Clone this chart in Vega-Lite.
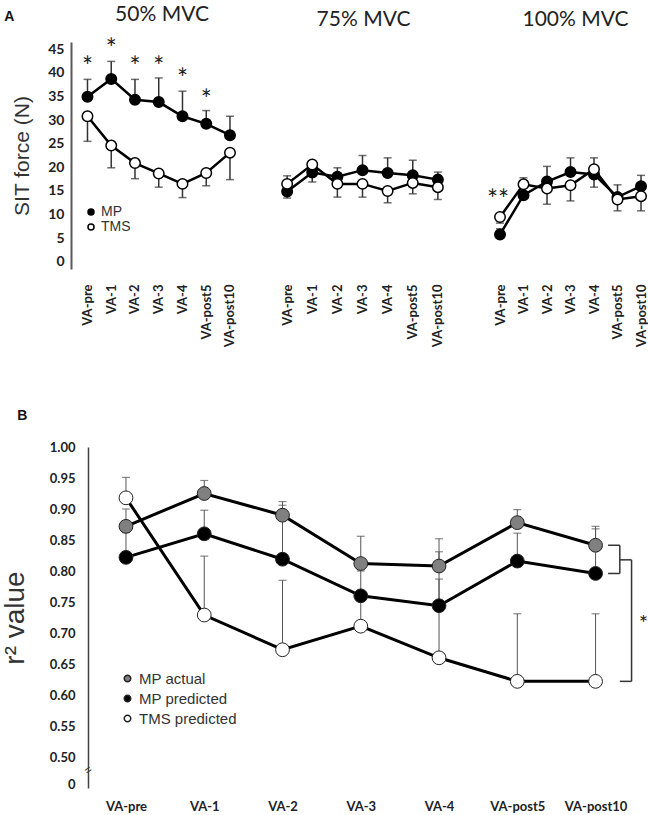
{
  "$schema": "https://vega.github.io/schema/vega-lite/v6.json",
  "padding": {"left": 1, "top": 3, "right": 0, "bottom": 0},
  "config": {
    "view": {"stroke": null},
    "title": {"font": "Lato", "fontSize": 21, "fontWeight": "normal", "color": "#222", "offset": 12},
    "axis": {"grid": false, "ticks": false, "labelColor": "#222", "titleColor": "#333"}
  },
  "title": {"text": "A", "anchor": "start", "frame": "bounds", "font": "Liberation Sans", "fontSize": 14, "fontWeight": "bold", "color": "#111", "dy": 32, "dx": 3},
  "resolve": {"scale": {"fill": "independent"}, "legend": {"fill": "independent"}},
  "datasets": {
    "sit": [
      {"panel": "50", "tp": "VA-pre", "series": "MP", "value": 34.9, "bar": 38.6},
      {"panel": "50", "tp": "VA-1", "series": "MP", "value": 38.7, "bar": 42.4},
      {"panel": "50", "tp": "VA-2", "series": "MP", "value": 34.3, "bar": 38.6},
      {"panel": "50", "tp": "VA-3", "series": "MP", "value": 33.8, "bar": 38.9},
      {"panel": "50", "tp": "VA-4", "series": "MP", "value": 30.8, "bar": 36.1},
      {"panel": "50", "tp": "VA-post5", "series": "MP", "value": 29.2, "bar": 32.0},
      {"panel": "50", "tp": "VA-post10", "series": "MP", "value": 26.8, "bar": 30.8},
      {"panel": "50", "tp": "VA-pre", "series": "TMS", "value": 30.8, "bar": 25.5},
      {"panel": "50", "tp": "VA-1", "series": "TMS", "value": 24.6, "bar": 19.9},
      {"panel": "50", "tp": "VA-2", "series": "TMS", "value": 20.9, "bar": 17.6},
      {"panel": "50", "tp": "VA-3", "series": "TMS", "value": 18.7, "bar": 15.8},
      {"panel": "50", "tp": "VA-4", "series": "TMS", "value": 16.5, "bar": 13.6},
      {"panel": "50", "tp": "VA-post5", "series": "TMS", "value": 18.8, "bar": 16.1},
      {"panel": "50", "tp": "VA-post10", "series": "TMS", "value": 23.1, "bar": 17.4},
      {"panel": "75", "tp": "VA-pre", "series": "MP", "value": 14.9, "bar": 18.2},
      {"panel": "75", "tp": "VA-1", "series": "MP", "value": 18.9, "bar": 21.0},
      {"panel": "75", "tp": "VA-2", "series": "MP", "value": 18.0, "bar": 19.9},
      {"panel": "75", "tp": "VA-3", "series": "MP", "value": 19.4, "bar": 22.5},
      {"panel": "75", "tp": "VA-4", "series": "MP", "value": 18.8, "bar": 22.0},
      {"panel": "75", "tp": "VA-post5", "series": "MP", "value": 18.3, "bar": 21.5},
      {"panel": "75", "tp": "VA-post10", "series": "MP", "value": 17.4, "bar": 19.0},
      {"panel": "75", "tp": "VA-pre", "series": "TMS", "value": 16.5, "bar": 13.5},
      {"panel": "75", "tp": "VA-1", "series": "TMS", "value": 20.6, "bar": 16.9},
      {"panel": "75", "tp": "VA-2", "series": "TMS", "value": 16.5, "bar": 13.7},
      {"panel": "75", "tp": "VA-3", "series": "TMS", "value": 16.5, "bar": 13.7},
      {"panel": "75", "tp": "VA-4", "series": "TMS", "value": 15.0, "bar": 12.5},
      {"panel": "75", "tp": "VA-post5", "series": "TMS", "value": 16.7, "bar": 14.4},
      {"panel": "75", "tp": "VA-post10", "series": "TMS", "value": 15.8, "bar": 13.2},
      {"panel": "100", "tp": "VA-pre", "series": "MP", "value": 5.8, "bar": 7.0},
      {"panel": "100", "tp": "VA-1", "series": "MP", "value": 14.1, "bar": 17.8},
      {"panel": "100", "tp": "VA-2", "series": "MP", "value": 17.0, "bar": 20.2},
      {"panel": "100", "tp": "VA-3", "series": "MP", "value": 19.0, "bar": 22.0},
      {"panel": "100", "tp": "VA-4", "series": "MP", "value": 18.5, "bar": 22.0},
      {"panel": "100", "tp": "VA-post5", "series": "MP", "value": 13.7, "bar": 16.3},
      {"panel": "100", "tp": "VA-post10", "series": "MP", "value": 16.0, "bar": 18.3},
      {"panel": "100", "tp": "VA-pre", "series": "TMS", "value": 9.5, "bar": 8.2},
      {"panel": "100", "tp": "VA-1", "series": "TMS", "value": 16.4, "bar": 14.5},
      {"panel": "100", "tp": "VA-2", "series": "TMS", "value": 15.5, "bar": 12.2},
      {"panel": "100", "tp": "VA-3", "series": "TMS", "value": 16.2, "bar": 12.9},
      {"panel": "100", "tp": "VA-4", "series": "TMS", "value": 19.6, "bar": 15.8},
      {"panel": "100", "tp": "VA-post5", "series": "TMS", "value": 13.2, "bar": 10.8},
      {"panel": "100", "tp": "VA-post10", "series": "TMS", "value": 13.9, "bar": 10.8}
    ],
    "stars": [
      {"panel": "50", "tp": "VA-pre", "value": 42.2, "label": "*"},
      {"panel": "50", "tp": "VA-1", "value": 46.1, "label": "*"},
      {"panel": "50", "tp": "VA-2", "value": 42.2, "label": "*"},
      {"panel": "50", "tp": "VA-3", "value": 42.2, "label": "*"},
      {"panel": "50", "tp": "VA-4", "value": 39.8, "label": "*"},
      {"panel": "50", "tp": "VA-post5", "value": 35.3, "label": "*"},
      {"panel": "100", "tp": "VA-pre", "value": 14.1, "label": "**"}
    ],
    "r2": [
      {"tp": 0, "series": "MP actual", "value": 0.872, "bar": 0.900},
      {"tp": 1, "series": "MP actual", "value": 0.925, "bar": 0.946},
      {"tp": 2, "series": "MP actual", "value": 0.890, "bar": 0.912},
      {"tp": 3, "series": "MP actual", "value": 0.812, "bar": 0.856},
      {"tp": 4, "series": "MP actual", "value": 0.808, "bar": 0.852},
      {"tp": 5, "series": "MP actual", "value": 0.878, "bar": 0.899},
      {"tp": 6, "series": "MP actual", "value": 0.8415, "bar": 0.872},
      {"tp": 0, "series": "MP predicted", "value": 0.822, "bar": 0.862},
      {"tp": 1, "series": "MP predicted", "value": 0.860, "bar": 0.898},
      {"tp": 2, "series": "MP predicted", "value": 0.819, "bar": 0.906},
      {"tp": 3, "series": "MP predicted", "value": 0.760, "bar": 0.800},
      {"tp": 4, "series": "MP predicted", "value": 0.744, "bar": 0.831},
      {"tp": 5, "series": "MP predicted", "value": 0.816, "bar": 0.861},
      {"tp": 6, "series": "MP predicted", "value": 0.796, "bar": 0.868},
      {"tp": 0, "series": "TMS predicted", "value": 0.918, "bar": 0.951},
      {"tp": 1, "series": "TMS predicted", "value": 0.729, "bar": 0.824},
      {"tp": 2, "series": "TMS predicted", "value": 0.673, "bar": 0.785},
      {"tp": 3, "series": "TMS predicted", "value": 0.711, "bar": 0.760},
      {"tp": 4, "series": "TMS predicted", "value": 0.660, "bar": 0.787},
      {"tp": 5, "series": "TMS predicted", "value": 0.622, "bar": 0.731},
      {"tp": 6, "series": "TMS predicted", "value": 0.622, "bar": 0.731}
    ],
    "brackets": [
      {"x": 6.16, "x2": 6.31, "y": 0.8415, "y2": 0.8415},
      {"x": 6.16, "x2": 6.31, "y": 0.796, "y2": 0.796},
      {"x": 6.31, "x2": 6.31, "y": 0.796, "y2": 0.8415},
      {"x": 6.31, "x2": 6.46, "y": 0.818, "y2": 0.818},
      {"x": 6.46, "x2": 6.46, "y": 0.622, "y2": 0.818},
      {"x": 6.31, "x2": 6.46, "y": 0.622, "y2": 0.622}
    ],
    "sig": [{"x": 6.61, "y": 0.723, "label": "*"}]
  },
  "concat": [
    {
      "spacing": 0,
      "resolve": {"scale": {"fill": "independent"}, "legend": {"fill": "independent"}},
      "hconcat": [
        {
          "width": 190, "height": 227,
          "title": {"text": "50% MVC", "dx": -4},
          "encoding": {
            "x": {"field": "tp", "type": "ordinal", "scale": {"type": "point", "domain": ["VA-pre", "VA-1", "VA-2", "VA-3", "VA-4", "VA-post5", "VA-post10"], "padding": 1.0426, "align": 0.347},
              "axis": {"title": null, "labelAngle": -90, "labelFont": "Lato", "labelFontWeight": "bold", "labelFontSize": 13, "labelPadding": 15, "domain": false}},
            "y": {"field": "value", "type": "quantitative", "scale": {"domain": [-1.5, 46.5], "nice": false, "zero": false},
              "axis": {"title": "SIT force (N)", "values": [0, 5, 10, 15, 20, 25, 30, 35, 40, 45], "domainColor": "#595959", "domainWidth": 2, "labelFont": "Lato", "labelFontWeight": "bold", "labelFontSize": 14, "labelPadding": 7, "titleFont": "Liberation Sans", "titleFontSize": 21, "titleFontWeight": "normal", "titlePadding": 15}}
          },
          "layer": [
            {"data": {"name": "sit"}, "transform": [{"filter": "datum.panel == '50'"}], "mark": {"type": "rule", "color": "#333", "strokeWidth": 1.5}, "encoding": {"y2": {"field": "bar"}}},
            {"data": {"name": "sit"}, "transform": [{"filter": "datum.panel == '50'"}], "mark": {"type": "tick", "color": "#333", "thickness": 1.5, "size": 8}, "encoding": {"y": {"field": "bar", "type": "quantitative"}}},
            {"data": {"name": "sit"}, "transform": [{"filter": "datum.panel == '50'"}], "mark": {"type": "line", "color": "#000", "strokeWidth": 2.5}, "encoding": {"detail": {"field": "series"}}},
            {"data": {"name": "sit"}, "transform": [{"filter": "datum.panel == '50'"}], "mark": {"type": "point", "shape": "circle", "filled": true, "stroke": "#000", "strokeWidth": 1.5, "size": 110, "opacity": 1},
              "encoding": {"fill": {"field": "series", "type": "nominal", "scale": {"domain": ["MP", "TMS"], "range": ["#000000", "#ffffff"]},
                "legend": {"orient": "none", "legendX": 13, "legendY": 163, "title": null, "labelFont": "Liberation Sans", "labelFontSize": 14, "labelColor": "#333", "symbolType": "circle", "symbolSize": 36, "symbolStrokeColor": "#000", "symbolStrokeWidth": 1.5, "rowPadding": 1, "labelOffset": 3}}}},
            {"data": {"name": "stars"}, "transform": [{"filter": "datum.panel == '50'"}], "mark": {"type": "text", "font": "Lato", "fontSize": 26, "baseline": "middle", "dy": 6, "color": "#222"}, "encoding": {"text": {"field": "label"}}}
          ]
        },
        {
          "width": 201, "height": 227,
          "title": {"text": "75% MVC", "dx": 2},
          "encoding": {
            "x": {"field": "tp", "type": "ordinal", "scale": {"type": "point", "domain": ["VA-pre", "VA-1", "VA-2", "VA-3", "VA-4", "VA-post5", "VA-post10"], "padding": 1.2766, "align": 0.52},
              "axis": {"title": null, "labelAngle": -90, "labelFont": "Lato", "labelFontWeight": "bold", "labelFontSize": 13, "labelPadding": 15, "domain": false}},
            "y": {"field": "value", "type": "quantitative", "scale": {"domain": [-1.5, 46.5], "nice": false, "zero": false}, "axis": null}
          },
          "layer": [
            {"data": {"name": "sit"}, "transform": [{"filter": "datum.panel == '75'"}], "mark": {"type": "rule", "color": "#333", "strokeWidth": 1.5}, "encoding": {"y2": {"field": "bar"}}},
            {"data": {"name": "sit"}, "transform": [{"filter": "datum.panel == '75'"}], "mark": {"type": "tick", "color": "#333", "thickness": 1.5, "size": 8}, "encoding": {"y": {"field": "bar", "type": "quantitative"}}},
            {"data": {"name": "sit"}, "transform": [{"filter": "datum.panel == '75'"}], "mark": {"type": "line", "color": "#000", "strokeWidth": 2.5}, "encoding": {"detail": {"field": "series"}}},
            {"data": {"name": "sit"}, "transform": [{"filter": "datum.panel == '75'"}], "mark": {"type": "point", "shape": "circle", "filled": true, "stroke": "#000", "strokeWidth": 1.5, "size": 110, "opacity": 1},
              "encoding": {"fill": {"field": "series", "type": "nominal", "scale": {"domain": ["MP", "TMS"], "range": ["#000000", "#ffffff"]}, "legend": null}}}
          ]
        },
        {
          "width": 185, "height": 227,
          "title": {"text": "100% MVC", "dx": 21},
          "encoding": {
            "x": {"field": "tp", "type": "ordinal", "scale": {"type": "point", "domain": ["VA-pre", "VA-1", "VA-2", "VA-3", "VA-4", "VA-post5", "VA-post10"], "padding": 0.936, "align": 0.864},
              "axis": {"title": null, "labelAngle": -90, "labelFont": "Lato", "labelFontWeight": "bold", "labelFontSize": 13, "labelPadding": 15, "domain": false}},
            "y": {"field": "value", "type": "quantitative", "scale": {"domain": [-1.5, 46.5], "nice": false, "zero": false}, "axis": null}
          },
          "layer": [
            {"data": {"name": "sit"}, "transform": [{"filter": "datum.panel == '100'"}], "mark": {"type": "rule", "color": "#333", "strokeWidth": 1.5}, "encoding": {"y2": {"field": "bar"}}},
            {"data": {"name": "sit"}, "transform": [{"filter": "datum.panel == '100'"}], "mark": {"type": "tick", "color": "#333", "thickness": 1.5, "size": 8}, "encoding": {"y": {"field": "bar", "type": "quantitative"}}},
            {"data": {"name": "sit"}, "transform": [{"filter": "datum.panel == '100'"}], "mark": {"type": "line", "color": "#000", "strokeWidth": 2.5}, "encoding": {"detail": {"field": "series"}}},
            {"data": {"name": "sit"}, "transform": [{"filter": "datum.panel == '100'"}], "mark": {"type": "point", "shape": "circle", "filled": true, "stroke": "#000", "strokeWidth": 1.5, "size": 110, "opacity": 1},
              "encoding": {"fill": {"field": "series", "type": "nominal", "scale": {"domain": ["MP", "TMS"], "range": ["#000000", "#ffffff"]}, "legend": null}}},
            {"data": {"name": "stars"}, "transform": [{"filter": "datum.panel == '100'"}], "mark": {"type": "text", "font": "Lato", "fontSize": 26, "baseline": "middle", "dy": 6, "dx": -2, "color": "#222"}, "encoding": {"text": {"field": "label"}}}
          ]
        }
      ]
    },
    {
      "width": 577, "height": 341,
      "title": {"text": "B", "anchor": "start", "frame": "bounds", "font": "Liberation Sans", "fontSize": 14, "fontWeight": "bold", "color": "#111", "offset": 18, "dx": 16},
      "encoding": {
        "x": {"field": "tp", "type": "quantitative", "scale": {"domain": [-0.7025, 6.67], "nice": false, "zero": false},
          "axis": {"title": null, "values": [0, 1, 2, 3, 4, 5, 6], "labelExpr": "['VA-pre','VA-1','VA-2','VA-3','VA-4','VA-post5','VA-post10'][datum.value]", "labelFont": "Lato", "labelFontWeight": "bold", "labelFontSize": 13, "labelPadding": 12, "labelFlush": false, "labelOverlap": false, "domain": false}},
        "y": {"field": "value", "type": "quantitative", "scale": {"domain": [0.45, 1.0], "nice": false, "zero": false},
          "axis": {"title": "r² value", "offset": -17, "values": [0.455, 0.5, 0.55, 0.6, 0.65, 0.7, 0.75, 0.8, 0.85, 0.9, 0.95, 1.0], "labelExpr": "datum.value < 0.47 ? '0' : format(datum.value, '.2f')", "labelOverlap": false, "domainColor": "#444", "domainWidth": 1.5, "labelFont": "Lato", "labelFontWeight": "bold", "labelFontSize": 13, "labelPadding": 13, "titleFont": "Liberation Sans", "titleFontSize": 28, "titleFontWeight": "normal", "titlePadding": 20}}
      },
      "layer": [
        {"data": {"name": "r2"}, "mark": {"type": "rule", "color": "#555", "strokeWidth": 1}, "encoding": {"y2": {"field": "bar"}}},
        {"data": {"name": "r2"}, "mark": {"type": "tick", "orient": "horizontal", "color": "#555", "thickness": 1.2, "size": 8}, "encoding": {"y": {"field": "bar", "type": "quantitative"}}},
        {"data": {"name": "r2"}, "mark": {"type": "line", "color": "#000", "strokeWidth": 3}, "encoding": {"detail": {"field": "series"}}},
        {"data": {"name": "r2"}, "mark": {"type": "point", "shape": "circle", "filled": true, "stroke": "#222", "strokeWidth": 1, "size": 190, "opacity": 1},
          "encoding": {"fill": {"field": "series", "type": "nominal", "scale": {"domain": ["MP actual", "MP predicted", "TMS predicted"], "range": ["#808080", "#000000", "#ffffff"]},
            "legend": {"orient": "none", "legendX": 49, "legendY": 224, "title": null, "labelFont": "Liberation Sans", "labelFontSize": 15, "labelColor": "#333", "symbolType": "circle", "symbolSize": 42, "symbolStrokeColor": "#222", "symbolStrokeWidth": 1.5, "rowPadding": 4, "labelOffset": 4}}}},
        {"data": {"name": "brackets"}, "mark": {"type": "rule", "color": "#333", "strokeWidth": 1.5}, "encoding": {"x": {"field": "x", "type": "quantitative"}, "x2": {"field": "x2"}, "y": {"field": "y", "type": "quantitative"}, "y2": {"field": "y2"}}},
        {"data": {"name": "sig"}, "mark": {"type": "text", "font": "Lato", "fontSize": 22, "baseline": "middle", "dy": 5, "color": "#222"}, "encoding": {"x": {"field": "x", "type": "quantitative"}, "y": {"field": "y", "type": "quantitative"}, "text": {"field": "label"}}},
        {"data": {"values": [{"x": -0.485, "y": 0.479, "label": "="}]}, "mark": {"type": "text", "font": "Liberation Sans", "fontSize": 12, "angle": -35, "baseline": "middle", "align": "center", "color": "#333"}, "encoding": {"x": {"field": "x", "type": "quantitative"}, "y": {"field": "y", "type": "quantitative"}, "text": {"field": "label"}}}
      ]
    }
  ],
  "columns": 1,
  "align": "none",
  "spacing": 62
}
